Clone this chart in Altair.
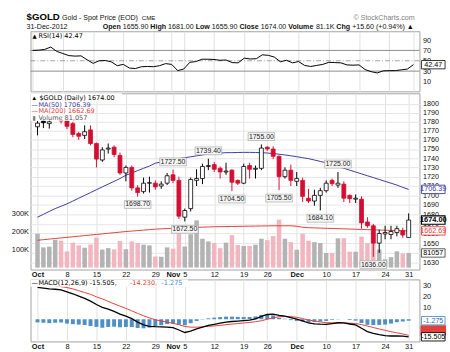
import altair as alt
import pandas as pd

# ---------------- data ----------------
tick_idx = [0, 5, 10, 15, 20, 23, 25, 30, 35, 39, 44, 49, 54, 59, 63]
tick_lab = ["Oct", "8", "15", "22", "29", "Nov", "5", "12", "19", "26", "Dec", "10", "17", "24", "31"]
month_idx = [0, 23, 44]

prev_close = 1771.0
opens = [1774.5, 1781, 1778, 1784, 1792, 1781, 1778, 1767, 1765, 1771,
         1756, 1738, 1750, 1752, 1743, 1724, 1730, 1708, 1704, 1713,
         1713, 1710, 1713, 1722, 1716, 1677, 1686, 1716, 1718, 1731,
         1733, 1729, 1725, 1727, 1716, 1713, 1732, 1728, 1729, 1752,
         1750, 1742, 1720, 1727, 1715, 1716, 1697, 1694, 1700, 1705,
         1716, 1711, 1712, 1700, 1696, 1696, 1672, 1668, 1650, 1659.5,
         1659, 1661, 1663, 1655.9]
highs = [1781, 1782, 1782, 1798, 1796, 1783, 1780, 1769, 1776, 1776,
         1757, 1752, 1756, 1754, 1746, 1732, 1732, 1711, 1719, 1720,
         1716, 1715, 1724, 1727.5, 1720, 1686, 1719, 1728, 1734, 1739.4,
         1736, 1731, 1735, 1728, 1717, 1734, 1735, 1732, 1755, 1753,
         1753, 1743, 1730, 1733, 1725, 1719, 1707, 1706, 1708, 1716,
         1718, 1725, 1715, 1701, 1701, 1699, 1677, 1670, 1664, 1668,
         1668, 1668, 1666, 1681]
lows = [1765, 1773, 1772.5, 1784, 1778, 1772, 1763, 1760, 1761, 1754,
        1730, 1736, 1745, 1741, 1722, 1715, 1705, 1698.7, 1702, 1703,
        1706, 1707, 1711, 1713, 1675, 1672.5, 1683, 1710, 1712, 1727,
        1725, 1718, 1722, 1704.5, 1711, 1712, 1718, 1718, 1727, 1748,
        1739, 1705.5, 1718, 1710, 1710, 1693, 1692, 1689, 1684.1, 1703,
        1710, 1708, 1693, 1692, 1692, 1665, 1666, 1636, 1640, 1654,
        1654, 1657, 1655.5, 1655.9]
closes = [1778.5, 1779, 1780, 1795, 1781, 1775, 1766, 1764, 1769, 1756,
          1739, 1749, 1751, 1744, 1724, 1730, 1708, 1703, 1713, 1713.5,
          1709, 1712, 1721, 1716, 1678, 1684, 1717, 1718, 1731, 1732,
          1728, 1725, 1726, 1714, 1713, 1731, 1728, 1729, 1751, 1750,
          1742, 1720, 1727, 1716, 1718, 1699, 1694, 1700, 1705, 1713,
          1712.5, 1713, 1697, 1696.5, 1697, 1671, 1668, 1650, 1660, 1661,
          1662, 1665, 1658.4, 1674]
volumes_k = [188, 112, 116, 154, 149, 90, 138, 123, 110, 128,
             167, 100, 108, 101, 147, 102, 145, 136, 127, 123,
             62, 60, 112, 105, 205, 117, 185, 262, 160, 145,
             136, 108, 138, 180, 125, 120, 120, 127, 160, 152,
             175, 266, 160, 141, 99, 188, 149, 141, 136, 81,
             81, 162, 163, 88, 88, 172, 135, 200, 100, 46,
             58, 90, 78, 81.057]
ma50 = [1677, 1680, 1683, 1686, 1688.5, 1691, 1694, 1697, 1700, 1703,
        1706, 1709, 1712, 1715, 1718, 1721.5, 1724, 1726.5, 1729, 1731.5,
        1734.5, 1736, 1737.5, 1738.5, 1739.5, 1740.5, 1741.5, 1742.5, 1743.5, 1744.5,
        1745, 1745.5, 1746, 1746, 1746.2, 1746.3, 1746.3, 1746.2, 1746, 1745.6,
        1745, 1744.3, 1743.5, 1742.6, 1741.6, 1740.5, 1739.5, 1738, 1736.5, 1735,
        1733, 1731, 1729, 1727, 1725, 1723, 1721, 1719, 1717, 1715,
        1713, 1711, 1708.5, 1706.39]
ma200 = [1653, 1653.6, 1654.2, 1654.8, 1655.4, 1656, 1656.6, 1657.2, 1657.8, 1658.4,
         1659, 1659.6, 1660.2, 1660.8, 1661.4, 1662, 1662.5, 1663, 1663.5, 1664,
         1664.5, 1664.8, 1665.1, 1665.4, 1665.7, 1666, 1666.2, 1666.4, 1666.6, 1666.8,
         1667, 1667.1, 1667.2, 1667.3, 1667.4, 1667.5, 1667.6, 1667.7, 1667.8, 1667.9,
         1668, 1668, 1668, 1668, 1667.5, 1666.5, 1666, 1665.8, 1665.6, 1665.4,
         1665.2, 1665, 1664.8, 1664.6, 1664.4, 1664.2, 1664, 1663.8, 1663.6, 1663.4,
         1663.2, 1663, 1662.8, 1662.69]
rsi = [70, 70.5, 72, 76.5, 68, 64, 60, 59, 59.5, 52,
       45, 50, 50.5, 48, 40.5, 43, 36, 35, 38.5, 39,
       38.5, 40.5, 44.5, 43, 31, 34, 47, 48.5, 53, 53,
       52.5, 51, 51.5, 46.5, 46, 55, 53.5, 54, 61.5, 60.5,
       57, 48, 51, 46, 48.5, 41, 39, 41, 43, 47,
       46.5, 46, 42, 41.5, 42, 33, 29, 26.5, 30.5, 31,
       31, 32.5, 34, 42.47]
macd = [28.2, 27.5, 26.8, 26.5, 26, 24.2, 22.5, 20.5, 18.5, 16,
        13, 10.5, 9, 7, 4.5, 2.8, 0.5, -2.5, -5, -6.2,
        -6.6, -6.8, -6.9, -7.4, -9.5, -11.7, -10.5, -8.5, -7, -5.5,
        -4.5, -3.5, -2.5, -2, -1.7, -1.3, -0.8, 0.3, 2.5, 4.2,
        4.6, 3.5, 2.8, 1.5, 0.2, -1.5, -3.3, -4, -4.4, -4.5,
        -3.8, -3.1, -3.3, -4.2, -5, -8, -10.9, -12.5, -13.6, -14.5,
        -14.8, -14.6, -15, -15.505]
signal = [31, 30.6, 30.2, 29.6, 28.8, 28, 26.8, 25.2, 23.6, 22,
          19.8, 18, 15.8, 13.6, 11.6, 9.6, 7.4, 5.2, 3, 1.2,
          -0.5, -1.5, -2.6, -3.6, -4.8, -6.4, -7, -7, -6.7, -6.3,
          -5.9, -5.4, -4.8, -4.3, -3.8, -3.3, -2.8, -2.2, -1.3, 0,
          1.2, 2.2, 2.4, 2.3, 1.7, 0.6, -0.6, -1.6, -2.4, -3,
          -3.2, -3.3, -3.3, -3.5, -3.8, -4.7, -6, -7.3, -8.6, -9.8,
          -11, -12, -13, -14.23]
ann_hi_i = [23, 29, 38, 51]
ann_hi_p = [1727.50, 1739.40, 1755.00, 1725.00]
ann_lo_i = [17, 25, 33, 41, 48, 57]
ann_lo_p = [1698.70, 1672.50, 1704.50, 1705.50, 1684.10, 1636.00]

# ---------------- derived table ----------------
FONT = "Liberation Sans"
LFONT = "DejaVu Sans"
RED = "#d20f32"
BLUE = "#3c3c9e"
MARED = "#e2403a"
HISTC = "#4f8fc4"

W = 395
H_RSI, H_PRICE, H_MACD = 61, 179, 63

n = len(closes)
prevs = [prev_close] + closes[:-1]
up = [c >= p for c, p in zip(closes, prevs)]
hollow = [c > o for o, c in zip(opens, closes)]
cand_col = ["#000000" if u else RED for u in up]
body_fill = ["#ffffff" if hw else cc for hw, cc in zip(hollow, cand_col)]
vol_col = ["#b3b3b3" if u else "#f2b6c0" for u in up]
hist = [round(m - s, 3) for m, s in zip(macd, signal)]

df = pd.DataFrame({
    "i": list(range(n)), "o": opens, "h": highs, "l": lows, "c": closes,
    "v": [v * 1000 for v in volumes_k], "ma50": ma50, "ma200": ma200,
    "rsi": rsi, "macd": macd, "sig": signal, "hist": hist,
    "ccol": cand_col, "bfill": body_fill, "vcol": vol_col,
})
one = pd.DataFrame({"k": [0]})

label_arr = [""] * n
for k, t in zip(tick_idx, tick_lab):
    label_arr[k] = t
label_expr = "[" + ",".join("'" + t + "'" for t in label_arr) + "][datum.value]"
month_test = "indexof([" + ",".join(str(m) for m in month_idx) + "], datum.value) >= 0"

xscale = alt.Scale(domain=[-0.35, 64.0], nice=False, zero=False)


def x_axis(show):
    kw = dict(values=tick_idx, grid=True, gridColor="#e2e2e2", gridWidth=1,
              ticks=False, domain=False, title=None, labels=show)
    if show:
        kw.update(labelExpr=label_expr, labelFont=FONT, labelFontSize=7.5,
                  labelColor="#111", labelPadding=1, labelOverlap=False,
                  labelFlush=False,
                  labelFontWeight={"condition": {"test": month_test, "value": "bold"},
                                   "value": "normal"})
    return alt.Axis(**kw)


XR = alt.X("i:Q", scale=xscale, axis=x_axis(False))
XP = alt.X("i:Q", scale=xscale, axis=x_axis(True))
XM = alt.X("i:Q", scale=xscale, axis=x_axis(True))

BOX = "M-1,-0.354L1,-0.354L1,0.354L-1,0.354Z"      # 24 x 8.5
ABOX = "M-1,-0.296L1,-0.296L1,0.296L-1,0.296Z"     # 27 x 8
VBX = 409


def txt(x, y, s, size=6.6, bold=False, color="#000", align="left", font=LFONT):
    return alt.Chart(one).mark_text(text=s, fontSize=size, font=font,
                                    fontWeight="bold" if bold else "normal",
                                    color=color, align=align, baseline="middle").encode(
        x=alt.value(x), y=alt.value(y))


def bg(x0, x1, y0, y1):
    return alt.Chart(one).mark_rect(color="white").encode(
        x=alt.value(x0), x2=alt.value(x1), y=alt.value(y0), y2=alt.value(y1))


# ---------------- header texts ----------------
REGW = {".": 0.278, ",": 0.278, " ": 0.278, "(": 0.333, ")": 0.333, "-": 0.333,
        "+": 0.584, "%": 0.889, "K": 0.667, "\u25b2": 0.8}
BOLDW = {"O": 0.778, "p": 0.611, "e": 0.556, "n": 0.611, "H": 0.722, "i": 0.278,
         "g": 0.611, "h": 0.611, "L": 0.611, "o": 0.611, "w": 0.778, "C": 0.722,
         "l": 0.278, "s": 0.556, "V": 0.667, "u": 0.611, "m": 0.889}


def tw(s, size, bold):
    tot = 0.0
    for ch in s:
        if ch.isdigit():
            tot += 0.556
        elif bold and ch in BOLDW:
            tot += BOLDW[ch]
        else:
            tot += REGW.get(ch, 0.6)
    return tot * size


HS = 7.2
segs = [("Open", True), ("1655.90", False), ("High", True), ("1681.00", False),
        ("Low", True), ("1655.90", False), ("Close", True), ("1674.00", False),
        ("Volume", True), ("81.1K", False), ("Chg", True), ("+15.60 (+0.94%) \u25b2", False)]
gap = 0.278 * HS
total = sum(tw(s, HS, b) for s, b in segs) + gap * (len(segs) - 1)
xcur = (418 - 30) - total
header = []
for s, b in segs:
    header.append(txt(xcur, -4, s, size=HS, bold=b, font=FONT, color="#111"))
    xcur += tw(s, HS, b) + gap

header += [
    txt(-4, -14, "$GOLD", size=9.8, bold=True, font=FONT),
    txt(32, -13.5, "Gold - Spot Price (EOD)", size=7.2, font=FONT, color="#111"),
    txt(113, -13.5, "CME", size=6.2, font=FONT, color="#111"),
    txt(390, -13.5, "\u00a9 StockCharts.com", size=7.2, font=FONT, color="#808080", align="right"),
    txt(-4, -4, "31-Dec-2012", size=7.2, font=FONT, color="#111"),
]

# ---------------- RSI panel ----------------
rsi_y = alt.Scale(domain=[-9, 107], nice=False, zero=False)
rsi_axis = alt.Axis(orient="right", values=[10, 30, 50, 70, 90], grid=False, ticks=False,
                    domain=False, title=None, labelPadding=3, labelFont=FONT,
                    labelFontSize=7.5, labelColor="#111")


def YR(f):
    return alt.Y(f, scale=rsi_y, axis=rsi_axis)


rsi_solid = alt.Chart(pd.DataFrame({"lv": [70, 30]})).mark_rule(
    color="#8c8c8c", strokeWidth=1).encode(y=YR("lv:Q"))
rsi_mid = alt.Chart(pd.DataFrame({"lv": [50]})).mark_rule(
    color="#8c8c8c", strokeWidth=0.8, strokeDash=[5, 2, 1, 2]).encode(y=YR("lv:Q"))
rsi_line = alt.Chart(df).mark_line(color="#000", strokeWidth=1).encode(x=XR, y=YR("rsi:Q"))
rsi_last = pd.DataFrame({"y": [rsi[-1]], "lab": ["%.2f" % rsi[-1]]})
rsi_box = alt.Chart(rsi_last).mark_point(shape=BOX, size=576, filled=True, fill="white",
                                         stroke="#000", strokeWidth=0.8, opacity=1).encode(
    x=alt.value(VBX), y=YR("y:Q"))
rsi_box_t = alt.Chart(rsi_last).mark_text(fontSize=7.3, font=FONT, color="#000").encode(
    x=alt.value(VBX), y=YR("y:Q"), text="lab:N")

rsi_chart = alt.layer(
    rsi_solid, rsi_mid, rsi_line, rsi_box, rsi_box_t,
    txt(2, 4.5, "\u25b2", size=5.5), txt(8, 4.5, "RSI(14) %.2f" % rsi[-1]),
    *header,
).properties(width=W, height=H_RSI)

# ---------------- price panel ----------------
price_y = alt.Scale(type="log", domain=[1623, 1812], nice=False)
price_axis = alt.Axis(orient="right", values=list(range(1630, 1801, 10)), format="d",
                      grid=True, gridColor="#e6e6e6", ticks=False, domain=False, title=None,
                      labelPadding=3, labelFont=FONT, labelFontSize=7.3, labelColor="#111",
                      labelOverlap=False, labelFlush=False)
vol_y = alt.Scale(domain=[-11000, 967000], nice=False, zero=False)
vol_axis = alt.Axis(orient="left", values=[100000, 200000, 300000],
                    labelExpr="(datum.value / 1000) + 'K'", grid=False, ticks=False,
                    domain=False, title=None, labelPadding=2, minExtent=30, maxExtent=30,
                    labelFont=FONT, labelFontSize=7.5, labelColor="#111")


def YP(f):
    return alt.Y(f, scale=price_y, axis=price_axis)


def YV(f):
    return alt.Y(f, scale=vol_y, axis=vol_axis)


vol_bars = alt.Chart(df).mark_bar(size=4.6).encode(
    x=XP, y=YV("v:Q"), color=alt.Color("vcol:N", scale=None))
vol_last = pd.DataFrame({"v": [volumes_k[-1] * 1000], "lab": ["81057"]})
vol_box = alt.Chart(vol_last).mark_point(shape=BOX, size=576, filled=True, fill="white",
                                         stroke="#333", strokeWidth=0.8, opacity=1).encode(
    x=alt.value(VBX), y=YV("v:Q"))
vol_box_t = alt.Chart(vol_last).mark_text(fontSize=7.3, font=FONT, color="#000").encode(
    x=alt.value(VBX), y=YV("v:Q"), text="lab:N")
vol_group = alt.layer(vol_bars, vol_box, vol_box_t)

ma200_line = alt.Chart(df).mark_line(color=MARED, strokeWidth=1).encode(x=XP, y=YP("ma200:Q"))
ma50_line = alt.Chart(df).mark_line(color=BLUE, strokeWidth=1).encode(x=XP, y=YP("ma50:Q"))
wicks = alt.Chart(df).mark_rule(strokeWidth=1).encode(
    x=XP, y=YP("l:Q"), y2="h:Q", color=alt.Color("ccol:N", scale=None))
bodies = alt.Chart(df).mark_bar(size=4, strokeWidth=0.8).encode(
    x=XP, y=YP("o:Q"), y2="c:Q",
    fill=alt.Fill("bfill:N", scale=None), stroke=alt.Stroke("ccol:N", scale=None))

ann_hi = pd.DataFrame({"i": ann_hi_i, "p": ann_hi_p, "lab": ["%.2f" % p for p in ann_hi_p]})
ann_lo = pd.DataFrame({"i": ann_lo_i, "p": ann_lo_p, "lab": ["%.2f" % p for p in ann_lo_p]})


def ann_layers(d, off):
    b = alt.Chart(d).mark_point(shape=ABOX, size=729, filled=True, fill="#f6f6f6",
                                stroke="#a8a8a8", strokeWidth=0.7, opacity=1, yOffset=off).encode(
        x=XP, y=YP("p:Q"))
    t = alt.Chart(d).mark_text(fontSize=7, font=FONT, color="#222", dy=off).encode(
        x=XP, y=YP("p:Q"), text="lab:N")
    return [b, t]


pbox = pd.DataFrame({"p": [ma50[-1], ma200[-1]], "lab": ["%.2f" % ma50[-1], "%.2f" % ma200[-1]],
                     "col": [BLUE, MARED]})
pbox_m = alt.Chart(pbox).mark_point(shape=BOX, size=576, filled=True, fill="white",
                                    strokeWidth=0.9, opacity=1).encode(
    x=alt.value(VBX), y=YP("p:Q"), stroke=alt.Stroke("col:N", scale=None))
pbox_t = alt.Chart(pbox).mark_text(fontSize=7.3, font=FONT).encode(
    x=alt.value(VBX), y=YP("p:Q"), text="lab:N", color=alt.Color("col:N", scale=None))
cbox = pd.DataFrame({"p": [closes[-1]], "lab": ["%.2f" % closes[-1]]})
cbox_m = alt.Chart(cbox).mark_point(shape=BOX, size=576, filled=True, fill="white",
                                    stroke="#000", strokeWidth=1.1, opacity=1).encode(
    x=alt.value(VBX), y=YP("p:Q"))
cbox_t = alt.Chart(cbox).mark_text(fontSize=7.5, font=FONT, fontWeight="bold", color="#000").encode(
    x=alt.value(VBX), y=YP("p:Q"), text="lab:N")

price_group = alt.layer(
    ma200_line, ma50_line, wicks, bodies,
    *ann_layers(ann_hi, -8), *ann_layers(ann_lo, 8),
    bg(0, 93, 0, 8), bg(0, 55, 8, 28),
    txt(2, 4.5, "\u25b4", size=7), txt(9, 4.5, "$GOLD (Daily) %.2f" % closes[-1]),
    txt(1, 11.5, "\u2014", size=6.6, color=BLUE), txt(8, 11.5, "MA(50) %.2f" % ma50[-1], color=BLUE),
    txt(1, 18.5, "\u2014", size=6.6, color=MARED), txt(8, 18.5, "MA(200) %.2f" % ma200[-1], color=MARED),
    txt(2, 25.5, "\u25ae", size=6, color="#777"), txt(8, 25.5, "Volume 81,057", color="#555"),
    pbox_m, pbox_t, cbox_m, cbox_t,
)
price_chart = alt.layer(vol_group, price_group).resolve_scale(y="independent").properties(
    width=W, height=H_PRICE)

# ---------------- MACD panel ----------------
macd_y = alt.Scale(domain=[-19.6, 35.2], nice=False, zero=False)
macd_axis = alt.Axis(orient="right", values=[-10, 0, 10, 20, 30], grid=False, ticks=False,
                     domain=False, title=None, labelPadding=3, labelFont=FONT,
                     labelFontSize=7.5, labelColor="#111")


def YM(f):
    return alt.Y(f, scale=macd_y, axis=macd_axis)


hist_bars = alt.Chart(df).mark_bar(size=4, color=HISTC).encode(x=XM, y=YM("hist:Q"))
macd_line = alt.Chart(df).mark_line(color="#000", strokeWidth=1.3).encode(x=XM, y=YM("macd:Q"))
sig_line = alt.Chart(df).mark_line(color=MARED, strokeWidth=1).encode(x=XM, y=YM("sig:Q"))
sig_last = pd.DataFrame({"y": [signal[-1]]})
sig_box = alt.Chart(sig_last).mark_point(shape=BOX, size=576, filled=True, fill=MARED,
                                         stroke=MARED, opacity=1, yOffset=-5).encode(
    x=alt.value(VBX), y=YM("y:Q"))
mb = pd.DataFrame({"y": [hist[-1], macd[-1]], "lab": ["%.3f" % hist[-1], "%.3f" % macd[-1]],
                   "col": [HISTC, "#000"], "tc": ["#2f6fa8", "#000"]})
mb_m = alt.Chart(mb).mark_point(shape=BOX, size=576, filled=True, fill="white",
                                strokeWidth=0.9, opacity=1).encode(
    x=alt.value(VBX), y=YM("y:Q"), stroke=alt.Stroke("col:N", scale=None))
mb_t = alt.Chart(mb).mark_text(fontSize=7.2, font=FONT).encode(
    x=alt.value(VBX), y=YM("y:Q"), text="lab:N", color=alt.Color("tc:N", scale=None))

macd_chart = alt.layer(
    hist_bars, sig_line, macd_line,
    bg(0, 160, 0, 7.5),
    txt(1, 4, "\u2014", size=6.6), txt(8, 4, "MACD(12,26,9) %.3f," % macd[-1]),
    txt(101, 4, "%.3f," % signal[-1], color=MARED), txt(133, 4, "%.3f" % hist[-1], color="#3f86c0"),
    sig_box, mb_m, mb_t,
).properties(width=W, height=H_MACD)

chart = alt.vconcat(rsi_chart, price_chart, macd_chart, spacing=0).properties(
    padding={"left": 0, "top": 9, "right": 0, "bottom": 0}, background="white"
).configure_view(stroke="#a3a3a3", strokeWidth=1)

chart.save("out.html", embed_options={"renderer": "svg", "actions": False})
